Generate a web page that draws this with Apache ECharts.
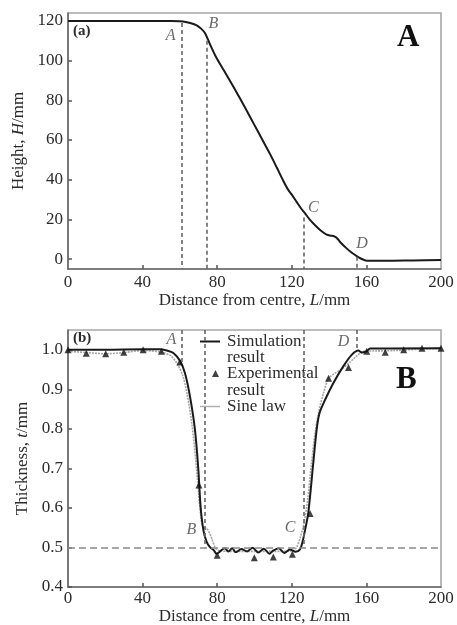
<!DOCTYPE html>
<html><head><meta charset="utf-8">
<script src="https://cdn.jsdelivr.net/npm/echarts@6/dist/echarts.min.js"></script>
<style>html,body{margin:0;padding:0;background:#fff}#c{width:457px;height:625px}</style>
</head><body><div id="c"></div>
<script>
// ---- data ----
const xTicks = [0, 40, 80, 120, 160, 200];
const heightTicks = [0, 20, 40, 60, 80, 100, 120];
const thickTicks = [0.4, 0.5, 0.6, 0.7, 0.8, 0.9, 1.0];

// (a) Height H vs distance L
const heightProfile = [[0,120],[20,120],[40,120],[55,120],[60,119.8],[63,119.5],[66,118.8],[69,117.8],[71.5,116],[73.5,113.8],[76,108.5],[79,102.5],[83.3,95.5],[88,88],[92.2,81],[96,74.5],[100,67.5],[104,60.5],[108.3,53],[112,46],[115.4,39.5],[118,35],[120,32.5],[122.6,28.8],[125,25.5],[127.1,23],[130,19.5],[133.3,16.3],[136,14],[138.7,12.3],[141,11.8],[142.3,11.6],[144,10.8],[146,8.5],[149.4,5.4],[152,3.3],[154.8,1.5],[157,0.3],[160.2,-0.8],[170,-0.9],[185,-0.7],[200,-0.5]];

// (b) Thickness t vs distance L
const simulation = [[0,1.0],[20,1.0],[40,1.001],[49,1.001],[53,0.998],[56.5,0.992],[60,0.972],[62.7,0.941],[65.4,0.882],[68.1,0.797],[69.9,0.696],[71.1,0.603],[72.6,0.544],[74.3,0.515],[76.1,0.501],[78,0.494],[79.7,0.484],[82,0.492],[84,0.498],[86,0.49],[88,0.498],[90,0.488],[93,0.496],[96,0.49],[99,0.499],[102,0.487],[105,0.497],[108,0.484],[110,0.492],[113,0.498],[116,0.486],[119,0.495],[122,0.489],[124.4,0.495],[125.8,0.515],[127.1,0.544],[128.8,0.586],[131.5,0.713],[133.3,0.797],[134.8,0.839],[137.8,0.873],[142.3,0.916],[147.6,0.958],[152.1,0.987],[155.7,0.998],[157.5,0.993],[160,0.996],[162,1.003],[200,1.004]];
const experimental = [[0,1.0],[9.8,0.991],[20.2,0.99],[29.9,0.994],[40.3,1.0],[50.1,0.996],[60,0.969],[70.2,0.658],[80,0.48],[99.9,0.474],[110.1,0.476],[120.3,0.483],[129.8,0.586],[139.7,0.928],[150.4,0.955],[160.2,0.996],[170.1,0.994],[180,1.0],[189.8,1.004],[200,1.004]];
const sineLaw = [[0,0.996],[10,0.993],[20,0.99],[30,0.993],[40,0.998],[50,0.994],[55,0.985],[58.5,0.965],[61.5,0.935],[64,0.885],[66.5,0.81],[68.5,0.72],[70,0.64],[71.3,0.575],[72.5,0.55],[74.4,0.548],[76.5,0.53],[78.8,0.501],[81,0.492],[90,0.49],[100,0.49],[110,0.49],[120,0.491],[122.5,0.5],[124.5,0.525],[126.5,0.56],[128.5,0.62],[130.5,0.71],[132.5,0.79],[134.5,0.845],[137,0.89],[139.7,0.928],[143,0.94],[147,0.952],[151,0.968],[155,0.985],[158.5,0.996],[165,0.997],[175,0.998],[190,1.002],[200,1.003]];

// point-label annotations
const labelsA = [[55,112.6,'A'],[77.9,118.6,'B'],[131.6,25.6,'C'],[157.6,7.9,'D']];
const labelsB = [[55.5,1.025,'A'],[66.2,0.544,'B'],[119.1,0.55,'C'],[147.7,1.019,'D']];
// reference lines: [L, from, to]
const guidesA = [[61.2,119,-5],[74.4,110,-5],[126.2,21,-5],[154.8,1.2,-5]];
const guidesB = [[61.2,1.05,0.967],[73.5,1.05,0.5],[126.2,1.05,0.5],[155,1.05,1.0]];

// ---- chart ----
const FF = "'Liberation Serif', 'DejaVu Serif', serif";
const TXT = '#2b2b2b';
const chart = echarts.init(document.getElementById('c'), null, {renderer:'canvas'});

function xAxis(gridIndex){
  return {
    type:'value', gridIndex, min:0, max:200, interval:40,
    name:'Distance from centre, {i|L}/mm', nameLocation:'middle', nameGap: gridIndex===0 ? 21 : 20,
    nameTextStyle:{fontFamily:FF, fontSize:17, color:TXT, rich:{i:{fontFamily:FF, fontSize:17, fontStyle:'italic', color:TXT}}},
    axisLine:{show:true, onZero:false, lineStyle:{color:'#6a6a6a', width:1.6}},
    axisTick:{show:true, inside:true, length:4, lineStyle:{color:'#555', width:1.5}, customValues:[40,80,120,160]},
    axisLabel:{fontFamily:FF, fontSize:17, color:TXT, margin: gridIndex===0 ? 5 : 3, customValues: xTicks},
    splitLine:{show:false}
  };
}

const option = {
  animation:false,
  backgroundColor:'#fff',
  grid:[
    {left:68, top:13, width:373, height:256, show:true, borderColor:'#a8a8a8', borderWidth:1.6, outerBoundsMode:'none', containLabel:false},
    {left:68, top:330, width:373, height:257, show:true, borderColor:'#a8a8a8', borderWidth:1.6, outerBoundsMode:'none', containLabel:false}
  ],
  xAxis:[xAxis(0), xAxis(1)],
  yAxis:[
    {type:'value', gridIndex:0, min:-5, max:124,
     name:'Height, {i|H}/mm', nameLocation:'middle', nameGap:41,
     nameTextStyle:{fontFamily:FF, fontSize:17, color:TXT, rich:{i:{fontFamily:FF, fontSize:17, fontStyle:'italic', color:TXT}}},
     axisLine:{show:true, onZero:false, lineStyle:{color:'#6a6a6a', width:1.6}},
     axisTick:{show:true, inside:true, length:4, lineStyle:{color:'#555', width:1.5}, customValues:heightTicks},
     axisLabel:{fontFamily:FF, fontSize:17, color:TXT, margin:5, customValues:heightTicks},
     splitLine:{show:false}},
    {type:'value', gridIndex:1, min:0.4, max:1.05,
     name:'Thickness, {i|t}/mm', nameLocation:'middle', nameGap:34,
     nameTextStyle:{fontFamily:FF, fontSize:17, color:TXT, rich:{i:{fontFamily:FF, fontSize:17, fontStyle:'italic', color:TXT}}},
     axisLine:{show:true, onZero:false, lineStyle:{color:'#6a6a6a', width:1.6}},
     axisTick:{show:true, inside:true, length:4, lineStyle:{color:'#555', width:1.5}, customValues:thickTicks},
     axisLabel:{fontFamily:FF, fontSize:17, color:TXT, margin:5, customValues:thickTicks, formatter:v=>v.toFixed(1)},
     splitLine:{show:false}}
  ],
  legend:[
    {data:[{name:'Simulation result', icon:'rect', itemStyle:{color:'#1a1a1a'}}], left:200, top:333, padding:0, itemWidth:20, itemHeight:2,
     formatter:()=> 'Simulation', textStyle:{fontFamily:FF, fontSize:17, color:TXT, padding:[0,0,0,2]}, selectedMode:false},
    {data:[{name:'Experimental result', icon:'triangle'}], left:212, top:365, padding:0, itemWidth:7, itemHeight:7,
     formatter:()=> 'Experimental', textStyle:{fontFamily:FF, fontSize:17, color:TXT, padding:[0,0,0,3]}, selectedMode:false},
    {data:[{name:'Sine law', icon:'rect', itemStyle:{color:'#b0b0b0'}}], left:200, top:398, padding:0, itemWidth:20, itemHeight:1.5,
     textStyle:{fontFamily:FF, fontSize:17, color:TXT, padding:[0,0,0,2]}, selectedMode:false}
  ],
  graphic:[
    {type:'text', left:227, top:349, style:{text:'result', font:"17px "+FF, fill:TXT}},
    {type:'text', left:227, top:382, style:{text:'result', font:"17px "+FF, fill:TXT}},
    {type:'text', left:73, top:24, style:{text:'(a)', font:"bold 15px "+FF, fill:TXT}},
    {type:'text', left:73, top:331, style:{text:'(b)', font:"bold 15px "+FF, fill:TXT}},
    {type:'text', left:397, top:22, style:{text:'A', font:"bold 31px "+FF, fill:'#111'}},
    {type:'text', left:396, top:364, style:{text:'B', font:"bold 31px "+FF, fill:'#111'}}
  ],
  series:[
    {type:'line', name:'Height', xAxisIndex:0, yAxisIndex:0, data:heightProfile, symbol:'none', smooth:0.3,
     lineStyle:{color:'#1a1a1a', width:2},
     markLine:{silent:true, symbol:['none','none'], label:{show:false},
       lineStyle:{type:[4,3], color:'#666', width:1.6},
       data: guidesA.map(g=>[{coord:[g[0],g[1]]},{coord:[g[0],g[2]]}])}},
    {type:'scatter', name:'labelsA', xAxisIndex:0, yAxisIndex:0, data:labelsA, symbolSize:0, silent:true,
     label:{show:true, position:'inside', formatter:p=>p.data[2], fontFamily:FF, fontSize:16, fontStyle:'italic', color:'#444'}},

    {type:'line', name:'Sine law', xAxisIndex:1, yAxisIndex:1, data:sineLaw, symbol:'none', smooth:0.3,
     lineStyle:{color:'#a5a5a5', width:1.6, type:[2,1]}, itemStyle:{color:'#a5a5a5'}, z:2,
     markLine:{silent:true, symbol:['none','none'], label:{show:false},
       lineStyle:{type:[4,3], color:'#666', width:1.6},
       data: guidesB.map(g=>[{coord:[g[0],g[1]]},{coord:[g[0],g[2]]}]).concat([[{coord:[0,0.5],lineStyle:{color:'#8a8a8a',type:[7,4]}},{coord:[200,0.5]}]])}},
    {type:'line', name:'Simulation result', xAxisIndex:1, yAxisIndex:1, data:simulation, symbol:'none', smooth:0.3,
     lineStyle:{color:'#1a1a1a', width:2}, itemStyle:{color:'#1a1a1a'}, z:3},
    {type:'scatter', name:'Experimental result', xAxisIndex:1, yAxisIndex:1, data:experimental, symbol:'triangle', symbolSize:7,
     itemStyle:{color:'#111'}, z:4},
    {type:'scatter', name:'labelsB', xAxisIndex:1, yAxisIndex:1, data:labelsB, symbolSize:0, silent:true,
     label:{show:true, position:'inside', formatter:p=>p.data[2], fontFamily:FF, fontSize:16, fontStyle:'italic', color:'#444'}}
  ]
};
chart.setOption(option);
</script></body></html>
